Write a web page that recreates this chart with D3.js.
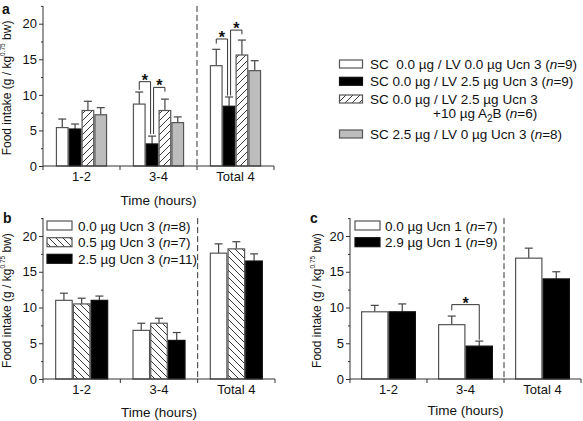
<!DOCTYPE html>
<html><head><meta charset="utf-8">
<script src="https://cdn.jsdelivr.net/npm/d3@7"></script>
<style>
body{margin:0;background:#fff;}
svg{display:block;font-family:Arial,"Liberation Sans",sans-serif;}
text{fill:#111;}
</style></head><body>
<svg id="chart" width="583" height="421"></svg>
<script>
// ---------- DATA ----------
const categories = ["1-2", "3-4", "Total 4"];
const yTicks = [0, 5, 10, 15, 20];

// Panel a (means and SEM)
const aVehicleMean = [5.4, 8.7, 14.1];
const aVehicleSem  = [1.2, 1.7, 2.3];
const aUcn3Mean    = [5.2, 3.1, 8.4];
const aUcn3Sem     = [0.7, 1.1, 1.3];
const aA2BMean     = [7.8, 7.8, 15.6];
const aA2BSem      = [1.3, 1.6, 2.1];
const aScMean      = [7.2, 6.1, 13.4];
const aScSem       = [1.0, 0.8, 1.4];
const aLegend = ["SC  0.0 \u00b5g / LV 0.0 \u00b5g Ucn 3 (", "SC 0.0 \u00b5g / LV 2.5 \u00b5g Ucn 3 (", "SC 0.0 \u00b5g / LV 2.5 \u00b5g Ucn 3", "SC 2.5 \u00b5g / LV 0 \u00b5g Ucn 3 ("];
const aN = ["9", "9", "6", "8"];
// significance brackets: [category, fromSeries, toSeries, level, leftEnd, rightEnd]
const aSig = [[1, 0, 1, 11.85, 10.7, 4.5], [1, 1, 2, 11.05, 4.5, 10.45], [2, 0, 1, 17.85, 17.2, 9.9], [2, 1, 2, 19.1, 9.9, 18.5]];

// Panel b
const bDose0Mean = [11.0, 6.8, 17.6];
const bDose0Sem  = [1.0, 1.0, 1.3];
const bDose05Mean = [10.5, 7.8, 18.2];
const bDose05Sem  = [0.8, 0.7, 1.0];
const bDose25Mean = [11.0, 5.4, 16.5];
const bDose25Sem  = [0.6, 1.1, 1.0];
const bLegend = ["0.0 \u00b5g Ucn 3 (", "0.5 \u00b5g Ucn 3 (", "2.5 \u00b5g Ucn 3 ("];
const bN = ["8", "7", "11"];

// Panel c
const cDose0Mean = [9.4, 7.6, 16.9];
const cDose0Sem  = [0.9, 1.2, 1.4];
const cDose29Mean = [9.4, 4.6, 14.0];
const cDose29Sem  = [1.1, 0.7, 1.0];
const cLegend = ["0.0 \u00b5g Ucn 1 (", "2.9 \u00b5g Ucn 1 ("];
const cN = ["7", "9"];
const cSig = [[1, 0, 1, 10.4, 9.6, 5.5]];

// ---------- DRAWING ----------
const svg = d3.select("#chart");
const defs = svg.append("defs");
function hatch(id, dir) {
  const p = defs.append("pattern").attr("id", id).attr("patternUnits", "userSpaceOnUse")
    .attr("width", 7).attr("height", 7);
  p.append("rect").attr("width", 7).attr("height", 7).attr("fill", "#fff");
  if (dir > 0) {
    p.append("path").attr("d", "M-1,8 L8,-1 M-2,2 L2,-2 M5,9 L9,5").attr("stroke", "#222").attr("stroke-width", 0.9);
  } else {
    p.append("path").attr("d", "M-1,-1 L8,8 M-2,5 L2,9 M5,-2 L9,2").attr("stroke", "#222").attr("stroke-width", 0.9);
  }
}
hatch("hatchF", 1);
hatch("hatchB", -1);

const styles = {
  white: {fill: "#fff", stroke: "#555"},
  black: {fill: "#000", stroke: "#111"},
  hatchF: {fill: "url(#hatchF)", stroke: "#555"},
  hatchB: {fill: "url(#hatchB)", stroke: "#555"},
  gray:  {fill: "#bdbdbd", stroke: "#555"}
};

function panel(cfg) {
  const g = svg.append("g");
  const y = d3.scaleLinear().domain([0, 22.5]).range([cfg.y0, cfg.y0 - 22.5 * cfg.k]);
  const x = d3.scaleBand().domain(categories).range([cfg.x0, cfg.x1]).padding(0);
  const slot = d3.scaleBand().domain(cfg.slots).range([0, x.bandwidth()])
    .paddingInner(0).paddingOuter(cfg.pad);

  // bars
  cfg.series.forEach((s, si) => {
    const st = styles[s.style];
    const sg = g.append("g");
    categories.forEach((c, ci) => {
      const bx = x(c) + slot(cfg.slots[si]);
      const bw = slot.bandwidth();
      const m = s.mean[ci], e = s.sem[ci];
      const cx = bx + bw / 2;
      sg.append("line").attr("x1", cx).attr("x2", cx).attr("y1", y(m)).attr("y2", y(m + e))
        .attr("stroke", "#444").attr("stroke-width", 1.2);
      sg.append("line").attr("x1", cx - 4).attr("x2", cx + 4).attr("y1", y(m + e)).attr("y2", y(m + e))
        .attr("stroke", "#444").attr("stroke-width", 1.2);
      sg.append("rect").attr("x", bx + 0.6).attr("y", y(m)).attr("width", bw - 1.2).attr("height", y(0) - y(m))
        .attr("fill", st.fill).attr("stroke", st.stroke).attr("stroke-width", 1.2);
    });
  });

  // dashed separator
  g.append("line").attr("x1", x("Total 4")).attr("x2", x("Total 4"))
    .attr("y1", y(22.5)).attr("y2", y(0)).attr("stroke", "#333").attr("stroke-width", 1)
    .attr("stroke-dasharray", "6,3");

  // significance
  (cfg.sig || []).forEach(([ci, a, b, lv, le, re]) => {
    const cat = categories[ci];
    const bw = slot.bandwidth();
    let xa = x(cat) + slot(cfg.slots[a]) + bw / 2;
    let xb = x(cat) + slot(cfg.slots[b]) + bw / 2;
    if (cfg.shareOffset) {
      if (a === 1) xa += 1.5;
      if (b === 1) xb -= 1.5;
    }
    g.append("path").attr("d", `M${xa},${y(le)} V${y(lv)} H${xb} V${y(re)}`)
      .attr("fill", "none").attr("stroke", "#333").attr("stroke-width", 1);
    g.append("text").attr("x", (xa + xb) / 2).attr("y", y(lv) + 4).attr("text-anchor", "middle")
      .attr("font-size", 16).attr("font-weight", "bold").text("*");
  });

  // y axis
  const yAxis = d3.axisLeft(y).tickValues(yTicks).tickSize(4).tickPadding(2).tickFormat(d3.format("d"));
  const ya = g.append("g").attr("transform", `translate(${cfg.x0},0)`).call(yAxis);
  ya.select(".domain").attr("d", `M0,${y(22.5)}V${y(0)}`);
  ya.selectAll(".tick text").attr("font-size", 13).attr("font-family", "Arial, Liberation Sans, sans-serif").attr("fill", "#111");
  const yMinor = d3.axisLeft(y).tickValues([2.5, 7.5, 12.5, 17.5, 22.5]).tickSize(2).tickFormat("");
  const ym = g.append("g").attr("transform", `translate(${cfg.x0},0)`).call(yMinor);
  ym.select(".domain").remove();
  g.selectAll(".tick line, .domain").attr("stroke", "#333");

  // x axis
  const xa2 = g.append("g").attr("transform", `translate(0,${y(0)})`);
  xa2.append("line").attr("x1", cfg.x0).attr("x2", cfg.x1).attr("stroke", "#333");
  const bounds = categories.map(c => x(c)).concat([cfg.x1]);
  xa2.selectAll(".bt").data(bounds).join("line").attr("class", "bt")
    .attr("x1", d => d).attr("x2", d => d).attr("y1", 0).attr("y2", 4).attr("stroke", "#333");
  xa2.selectAll(".lab").data(categories).join("text").attr("class", "lab")
    .attr("x", d => x(d) + x.bandwidth() / 2).attr("y", 15).attr("text-anchor", "middle")
    .attr("font-size", 13).text(d => d);

  // x title
  g.append("text").attr("x", (cfg.x0 + cfg.x1) / 2).attr("y", cfg.titleY).attr("text-anchor", "middle")
    .attr("font-size", 13.5).text("Time (hours)");

  // y title
  const yt = g.append("text").attr("transform", `translate(${cfg.ylabX},${(y(0) + y(22.5)) / 2 + 2}) rotate(-90)`)
    .attr("text-anchor", "middle").attr("font-size", 12);
  yt.append("tspan").text("Food intake (g / kg");
  yt.append("tspan").attr("font-size", 6.5).attr("dy", -6).text("0.75");
  yt.append("tspan").attr("dy", 6).text(" bw)");

  // panel letter
  g.append("text").attr("x", cfg.letterX).attr("y", cfg.letterY).attr("font-size", 14).attr("font-weight", "bold").text(cfg.letter);
  return {g, x, y};
}

panel({
  letter: "a", letterX: 2, letterY: 13.5,
  x0: 43, x1: 274, y0: 166, k: 7.115, pad: 1, slots: [0, 1, 2, 4], shareOffset: true,
  titleY: 205, ylabX: 11,
  series: [
    {mean: aVehicleMean, sem: aVehicleSem, style: "white"},
    {mean: aUcn3Mean, sem: aUcn3Sem, style: "black"},
    {mean: aA2BMean, sem: aA2BSem, style: "hatchF"},
    {mean: aScMean, sem: aScSem, style: "gray"}
  ],
  sig: aSig
});
panel({
  letter: "b", letterX: 3, letterY: 223,
  x0: 43, x1: 275, y0: 379, k: 7.15, pad: 0.68, slots: [0, 1, 2],
  titleY: 417, ylabX: 11,
  series: [
    {mean: bDose0Mean, sem: bDose0Sem, style: "white"},
    {mean: bDose05Mean, sem: bDose05Sem, style: "hatchB"},
    {mean: bDose25Mean, sem: bDose25Sem, style: "black"}
  ]
});
panel({
  letter: "c", letterX: 310, letterY: 223,
  x0: 350, x1: 581, y0: 379, k: 7.15, pad: 0.4, slots: [0, 1],
  titleY: 415, ylabX: 321,
  series: [
    {mean: cDose0Mean, sem: cDose0Sem, style: "white"},
    {mean: cDose29Mean, sem: cDose29Sem, style: "black"}
  ],
  sig: cSig
});

// ---------- LEGENDS ----------
function legendText(sel, label, n) {
  sel.append("tspan").text(label);
  if (n !== null) {
    sel.append("tspan").attr("font-style", "italic").text("n");
    sel.append("tspan").text("=" + n + ")");
  }
}
// panel a legend
const aStyles = ["white", "black", "hatchF", "gray"];
const aRowY = [60, 77.3, 95, 130];
const la = svg.append("g");
aLegend.forEach((lab, i) => {
  const st = styles[aStyles[i]];
  la.append("rect").attr("x", 339.5).attr("y", aRowY[i]).attr("width", 23).attr("height", 8)
    .attr("fill", st.fill).attr("stroke", st.stroke).attr("stroke-width", 1.2);
  const t = la.append("text").attr("x", 370).attr("y", aRowY[i] + 8.5).attr("font-size", 13.5)
    .style("white-space", "pre");
  legendText(t, lab, i === 2 ? null : aN[i]);
});
const t2 = la.append("text").attr("x", 433).attr("y", 117.5).attr("font-size", 13.5);
t2.append("tspan").text("+10 \u00b5g A");
t2.append("tspan").attr("font-size", 10).attr("dy", 4).text("2");
t2.append("tspan").attr("dy", -4).text("B (");
t2.append("tspan").attr("font-style", "italic").text("n");
t2.append("tspan").text("=" + aN[2] + ")");

// panel b legend
const bStyles = ["white", "hatchB", "black"];
const legRowY = [221, 237.7, 254.3];
const lb = svg.append("g");
bLegend.forEach((lab, i) => {
  const st = styles[bStyles[i]];
  lb.append("rect").attr("x", 47).attr("y", legRowY[i]).attr("width", 25).attr("height", 9)
    .attr("fill", st.fill).attr("stroke", st.stroke).attr("stroke-width", 1.2);
  const t = lb.append("text").attr("x", 78).attr("y", legRowY[i] + 9.5).attr("font-size", 13.5);
  legendText(t, lab, bN[i]);
});
// panel c legend
const cStyles = ["white", "black"];
const lc = svg.append("g");
cLegend.forEach((lab, i) => {
  const st = styles[cStyles[i]];
  lc.append("rect").attr("x", 355).attr("y", legRowY[i]).attr("width", 25).attr("height", 9)
    .attr("fill", st.fill).attr("stroke", st.stroke).attr("stroke-width", 1.2);
  const t = lc.append("text").attr("x", 385).attr("y", legRowY[i] + 9.5).attr("font-size", 13.5);
  legendText(t, lab, cN[i]);
});
</script>
</body></html>
